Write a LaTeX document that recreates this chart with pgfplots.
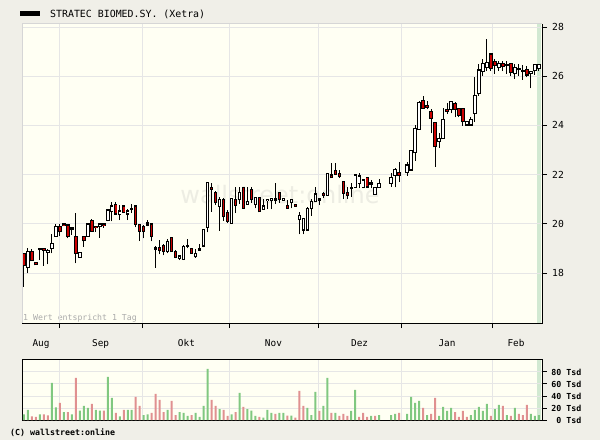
\documentclass[border=0pt]{standalone}
\usepackage{pgfplots}
\pgfplotsset{compat=1.18}
\usepackage{pgfplotstable}
\usepackage{fontspec}
\setmainfont{DejaVu Sans}
\setsansfont{DejaVu Sans}
\setmonofont{DejaVu Sans Mono}
\definecolor{outerbg}{HTML}{F0EFE8}
\definecolor{plotbg}{HTML}{FFFFF3}
\definecolor{gridc}{HTML}{E6E6E6}
\definecolor{framec}{HTML}{D6D6D6}
\definecolor{candred}{HTML}{CC0000}
\definecolor{volg}{HTML}{80C880}
\definecolor{volr}{HTML}{E09090}
\definecolor{bandc}{HTML}{D2E9D2}
\definecolor{wmc}{HTML}{EDEDE3}
\definecolor{notec}{HTML}{AAAAAA}

\pgfplotstableread{
i o h l c t v g
0 18.80 18.80 17.44 18.30 1 9.4 1
1 18.23 19.00 17.99 18.87 0 16.7 1
2 18.87 18.96 18.50 18.50 1 6.1 0
3 18.42 18.45 18.34 18.34 1 5.0 0
4 18.99 18.99 18.53 18.95 2 9.4 1
5 19.00 19.00 18.30 18.92 1 9.4 0
6 18.84 18.96 18.35 18.92 0 7.8 0
7 18.99 19.59 18.80 19.20 0 61.7 1
8 19.50 19.99 19.48 19.90 0 21.1 1
9 19.90 19.99 19.50 19.68 1 28.3 0
10 19.99 19.99 19.92 19.92 1 13.3 1
11 19.95 19.99 19.41 19.48 1 13.3 0
12 19.83 19.83 19.56 19.76 2 9.4 1
13 19.50 20.44 18.39 18.80 1 70.0 0
14 18.64 18.84 18.64 18.84 0 15.6 1
15 19.50 19.50 19.07 19.31 1 23.3 1
16 19.50 19.99 19.50 19.99 0 20.0 1
17 20.15 20.20 19.70 19.70 1 26.7 0
18 19.90 19.90 19.68 19.84 1 16.7 1
19 19.90 19.99 19.44 19.99 0 15.6 1
20 19.99 19.99 19.85 19.92 1 15.6 0
21 20.14 20.60 20.10 20.56 0 71.7 1
22 20.52 20.89 20.10 20.72 0 36.7 1
23 20.80 20.87 20.36 20.40 1 11.7 0
24 20.39 20.76 20.15 20.52 0 6.1 1
25 20.72 20.76 20.46 20.48 1 16.7 0
26 20.40 20.60 20.15 20.52 0 16.7 1
27 20.63 20.80 20.43 20.59 2 16.7 1
28 20.72 20.76 19.86 19.98 1 38.3 0
29 19.98 19.99 19.30 19.70 1 23.3 0
30 19.90 19.94 19.41 19.70 1 8.3 1
31 20.03 20.15 19.90 19.94 2 9.4 1
32 19.99 19.99 19.29 19.48 1 11.7 0
33 19.04 19.08 18.22 18.96 2 43.3 0
34 19.04 19.34 18.76 18.92 1 33.3 0
35 19.13 19.17 18.72 18.88 1 13.3 0
36 18.88 19.37 18.80 19.29 0 16.7 1
37 19.45 19.45 18.88 18.88 1 31.7 0
38 18.88 18.92 18.60 18.64 1 8.3 0
39 18.60 18.69 18.52 18.69 0 13.3 1
40 18.56 19.13 18.52 19.09 0 11.7 1
41 19.13 19.37 19.00 19.09 1 6.7 1
42 19.00 19.00 18.80 18.80 1 8.3 0
43 18.66 18.99 18.62 18.80 0 11.7 1
44 19.00 19.17 18.90 18.93 2 5.0 1
45 19.10 19.78 19.05 19.78 0 23.3 1
46 19.86 21.71 19.65 21.67 0 85.0 1
47 21.48 21.65 20.49 21.40 1 33.3 0
48 21.28 21.35 20.76 20.86 1 23.3 0
49 20.70 21.10 19.72 21.00 0 18.3 1
50 21.00 21.05 20.13 20.29 1 16.7 0
51 20.47 20.55 20.05 20.09 1 6.7 0
52 20.02 21.06 20.00 21.04 0 9.4 1
53 21.00 21.48 20.43 20.74 1 13.3 0
54 21.00 21.50 20.80 21.26 0 45.0 1
55 21.48 21.48 20.63 20.63 1 21.7 0
56 20.80 21.48 20.80 20.90 0 18.3 1
57 21.40 21.48 20.85 21.00 1 15.6 1
58 20.79 21.08 20.63 21.08 0 6.7 1
59 21.08 21.08 20.49 20.49 1 5.0 0
60 20.59 21.00 20.59 20.72 0 3.9 1
61 20.94 21.00 20.60 21.00 0 16.7 1
62 20.94 21.04 20.59 21.04 0 11.7 1
63 21.04 21.65 20.80 20.96 2 10.0 0
64 21.26 21.30 20.86 21.00 1 11.7 1
65 20.97 21.04 20.95 21.04 0 11.7 1
66 20.76 20.97 20.63 20.63 1 7.2 0
67 20.86 20.97 20.63 20.97 0 7.2 1
68 20.80 20.80 20.72 20.72 1 3.9 0
69 20.18 20.47 19.57 20.32 0 48.3 0
70 19.75 20.22 19.57 20.22 0 23.3 0
71 19.75 20.70 19.72 20.63 0 20.0 1
72 20.63 21.00 20.32 20.90 0 8.3 1
73 20.90 21.50 20.88 21.21 0 46.7 1
74 21.04 21.04 20.76 20.96 2 15.0 0
75 21.24 21.30 21.04 21.17 1 23.3 1
76 21.17 22.08 21.17 22.05 0 70.0 1
77 21.98 22.48 21.87 21.87 1 11.7 0
78 22.15 22.48 21.98 22.02 1 11.7 1
79 22.05 22.19 21.88 21.91 1 6.7 0
80 21.71 21.71 21.00 21.24 1 10.0 0
81 21.26 21.50 21.00 21.17 1 6.7 0
82 21.47 21.65 21.10 21.42 2 15.0 1
83 21.48 21.98 21.45 21.98 0 50.0 1
84 21.65 22.05 21.44 21.94 0 5.0 0
85 21.48 21.78 21.44 21.78 0 11.7 0
86 21.87 21.87 21.45 21.50 1 5.0 0
87 21.67 21.78 21.44 21.62 2 6.7 1
88 21.21 21.48 21.20 21.48 0 6.7 0
89 21.48 21.83 21.46 21.62 0 8.3 1
92 21.65 22.08 21.51 21.89 0 8.3 1
93 21.96 22.26 21.48 22.19 0 10.0 1
94 22.08 22.52 21.71 21.96 1 11.7 0
96 22.09 22.52 21.96 22.39 0 10.0 1
97 22.19 22.98 22.17 22.96 0 38.3 1
98 22.89 24.02 22.57 23.88 0 28.3 1
99 23.84 25.00 23.84 24.92 0 31.7 1
100 25.00 25.20 24.70 24.70 1 20.0 0
101 24.80 25.00 24.65 24.74 1 8.3 1
102 24.56 24.65 23.68 24.29 1 10.0 0
103 24.13 24.13 22.32 23.13 1 36.7 0
104 23.34 23.68 23.09 23.47 0 6.7 1
105 23.47 24.70 23.47 24.25 0 21.7 1
106 24.65 24.92 24.46 24.56 1 15.0 1
107 24.65 24.96 24.49 24.96 0 20.0 1
108 24.90 24.96 24.33 24.65 1 13.3 0
109 24.70 24.70 24.33 24.42 1 5.0 0
110 24.70 24.70 23.98 24.15 1 15.0 0
111 24.02 24.15 24.02 24.15 0 5.0 0
112 24.02 24.33 24.02 24.25 0 8.3 1
113 24.49 25.95 24.15 25.20 0 16.7 1
114 25.30 26.50 25.20 26.25 0 21.7 1
115 26.20 26.70 26.00 26.50 0 15.0 1
116 26.35 27.50 26.20 26.55 0 26.7 1
117 26.90 26.95 26.20 26.30 1 6.7 0
118 26.60 26.70 26.10 26.45 1 18.3 1
119 26.35 26.60 26.20 26.50 0 25.0 1
120 26.50 26.60 26.20 26.40 1 23.3 0
121 26.47 26.60 26.10 26.43 2 8.3 1
122 26.50 26.55 26.00 26.15 1 6.7 0
123 26.10 26.50 25.90 26.35 0 20.0 1
124 26.30 26.50 26.00 26.26 2 10.0 0
125 26.22 26.45 25.85 26.18 2 8.3 0
126 26.28 26.40 25.95 26.05 1 25.0 0
127 26.10 26.20 25.50 26.20 0 10.0 1
128 26.22 26.48 26.05 26.48 0 6.7 1
129 26.32 26.50 26.20 26.48 0 8.3 1
}\data

\begin{document}
\begin{tikzpicture}
\fill[outerbg] (0pt,0pt) rectangle (600pt,440pt);
\fill[plotbg] (22pt,117pt) rectangle (542pt,416pt);
\fill[plotbg] (22pt,20pt) rectangle (542pt,80.7pt);
\fill[bandc] (537pt,117pt) rectangle (541pt,416pt);
\fill[bandc] (537pt,20pt) rectangle (541pt,80.7pt);
\node[text=wmc, font=\sffamily\fontsize{24}{24}\selectfont] at (280pt,245pt) {wallstreet:online};
% legend / title
\fill[black] (20pt,424pt) rectangle (40pt,429pt);
\node[anchor=base west, inner sep=0pt, font=\ttfamily\fontsize{9.9}{10}\selectfont] at (50pt,422.7pt) {STRATEC BIOMED.SY. (Xetra)};
\node[anchor=base west, inner sep=0pt, text=notec, font=\ttfamily\fontsize{8.2}{9}\selectfont] at (23pt,120pt) {1 Wert entspricht 1 Tag};
\node[anchor=base west, inner sep=0pt, font=\ttfamily\bfseries\fontsize{8.3}{9}\selectfont] at (10pt,4.5pt) {(C) wallstreet:online};

\begin{axis}[
  at={(22pt,117pt)}, anchor=south west, scale only axis,
  width=520pt, height=299pt,
  xmin=-0.5, xmax=129.8, ymin=15.97, ymax=28.12,
  axis line style={draw=none},
  grid=major, major grid style={draw=gridc, line width=0.9pt},
  tick align=outside, major tick length=5pt, tick style={black, line width=0.9pt},
  xtick={8.77,29.8,51.6,73.7,94.7,117.5}, xticklabels={,,,,,},
  extra x ticks={4.26,19.2,40.7,62.5,84.1,106,123.3},
  extra x tick labels={Aug,Sep,Okt,Nov,Dez,Jan,Feb},
  extra x tick style={major tick length=0pt, grid=none},
  xticklabel style={font=\ttfamily\fontsize{9.4}{10}\selectfont, anchor=base, yshift=-23.5pt},
  xtick pos=left,
  ytick={18,20,22,24,26,28}, yticklabels={18,20,22,24,26,28},
  ytick pos=right, yticklabel pos=right,
  yticklabel style={font=\ttfamily\fontsize{9.7}{10}\selectfont, anchor=west, inner sep=0pt, xshift=5pt},
]
% wicks
\addplot[draw=none, mark=none, forget plot, error bars/.cd, y dir=plus, y explicit, error mark=none,
  error bar style={draw=black, line width=1pt}]
  table[x=i, y=l, y error plus expr={\thisrow{h}-\thisrow{l}}] {\data};
% body outlines
\addplot[draw=none, mark=none, forget plot, error bars/.cd, y dir=plus, y explicit, error mark=none,
  error bar style={draw=black, line width=3.4pt}]
  table[x=i, y expr={min(\thisrow{o},\thisrow{c})-0.025}, y error plus expr={abs(\thisrow{c}-\thisrow{o})+0.05}] {\data};
% white interiors (t = 0 only)
\addplot[draw=none, mark=none, forget plot,
  error bars/.cd, y dir=plus, y explicit, error mark=none,
  error bar style={draw=white, line width=1.5pt}]
  table[x=i, y expr={min(\thisrow{o},\thisrow{c})+0.02},
        y error plus expr={(1-\thisrow{t})*(2-\thisrow{t})/2*max(abs(\thisrow{c}-\thisrow{o})-0.04,0)}] {\data};
% red interiors (t = 1 only)
\addplot[draw=none, mark=none, forget plot,
  error bars/.cd, y dir=plus, y explicit, error mark=none,
  error bar style={draw=candred, line width=1.5pt}]
  table[x=i, y expr={min(\thisrow{o},\thisrow{c})+0.02},
        y error plus expr={\thisrow{t}*(2-\thisrow{t})*max(abs(\thisrow{c}-\thisrow{o})-0.04,0)}] {\data};
\end{axis}
\draw[framec, line width=1pt] (22pt,117pt) -- (22pt,416pt) -- (542pt,416pt);
\draw[black, line width=1pt] (22pt,117pt) -- (542pt,117pt) -- (542pt,416pt);

\begin{axis}[
  at={(22pt,20pt)}, anchor=south west, scale only axis,
  width=520pt, height=60.7pt,
  xmin=-0.5, xmax=129.8, ymin=0, ymax=101,
  axis line style={black, line width=0.9pt},
  grid=major, major grid style={draw=gridc, line width=0.9pt},
  tick align=inside, major tick length=0pt, tick style={black, line width=0.9pt},
  xtick={8.77,29.8,51.6,73.7,94.7,117.5}, xticklabels={,,,,,},
  ytick={20,40,60,80}, yticklabels={,,,},
  extra y ticks={0,20,40,60,80}, extra y tick labels={0 Tsd,20 Tsd,40 Tsd,60 Tsd,80 Tsd},
  extra y tick style={tick align=outside, major tick length=4.5pt, grid=none},
  ytick pos=right, yticklabel pos=right,
  yticklabel style={font=\ttfamily\bfseries\fontsize{8.3}{9}\selectfont, anchor=east, inner sep=0pt, xshift=35pt},
]
\addplot[ybar, bar width=2pt, bar shift=0pt, fill=volg, draw=none, forget plot]
  table[x=i, y expr={\thisrow{g}*\thisrow{v}}] {\data};
\addplot[ybar, bar width=2pt, bar shift=0pt, fill=volr, draw=none, forget plot]
  table[x=i, y expr={(1-\thisrow{g})*\thisrow{v}}] {\data};
\end{axis}
\end{tikzpicture}
\end{document}
